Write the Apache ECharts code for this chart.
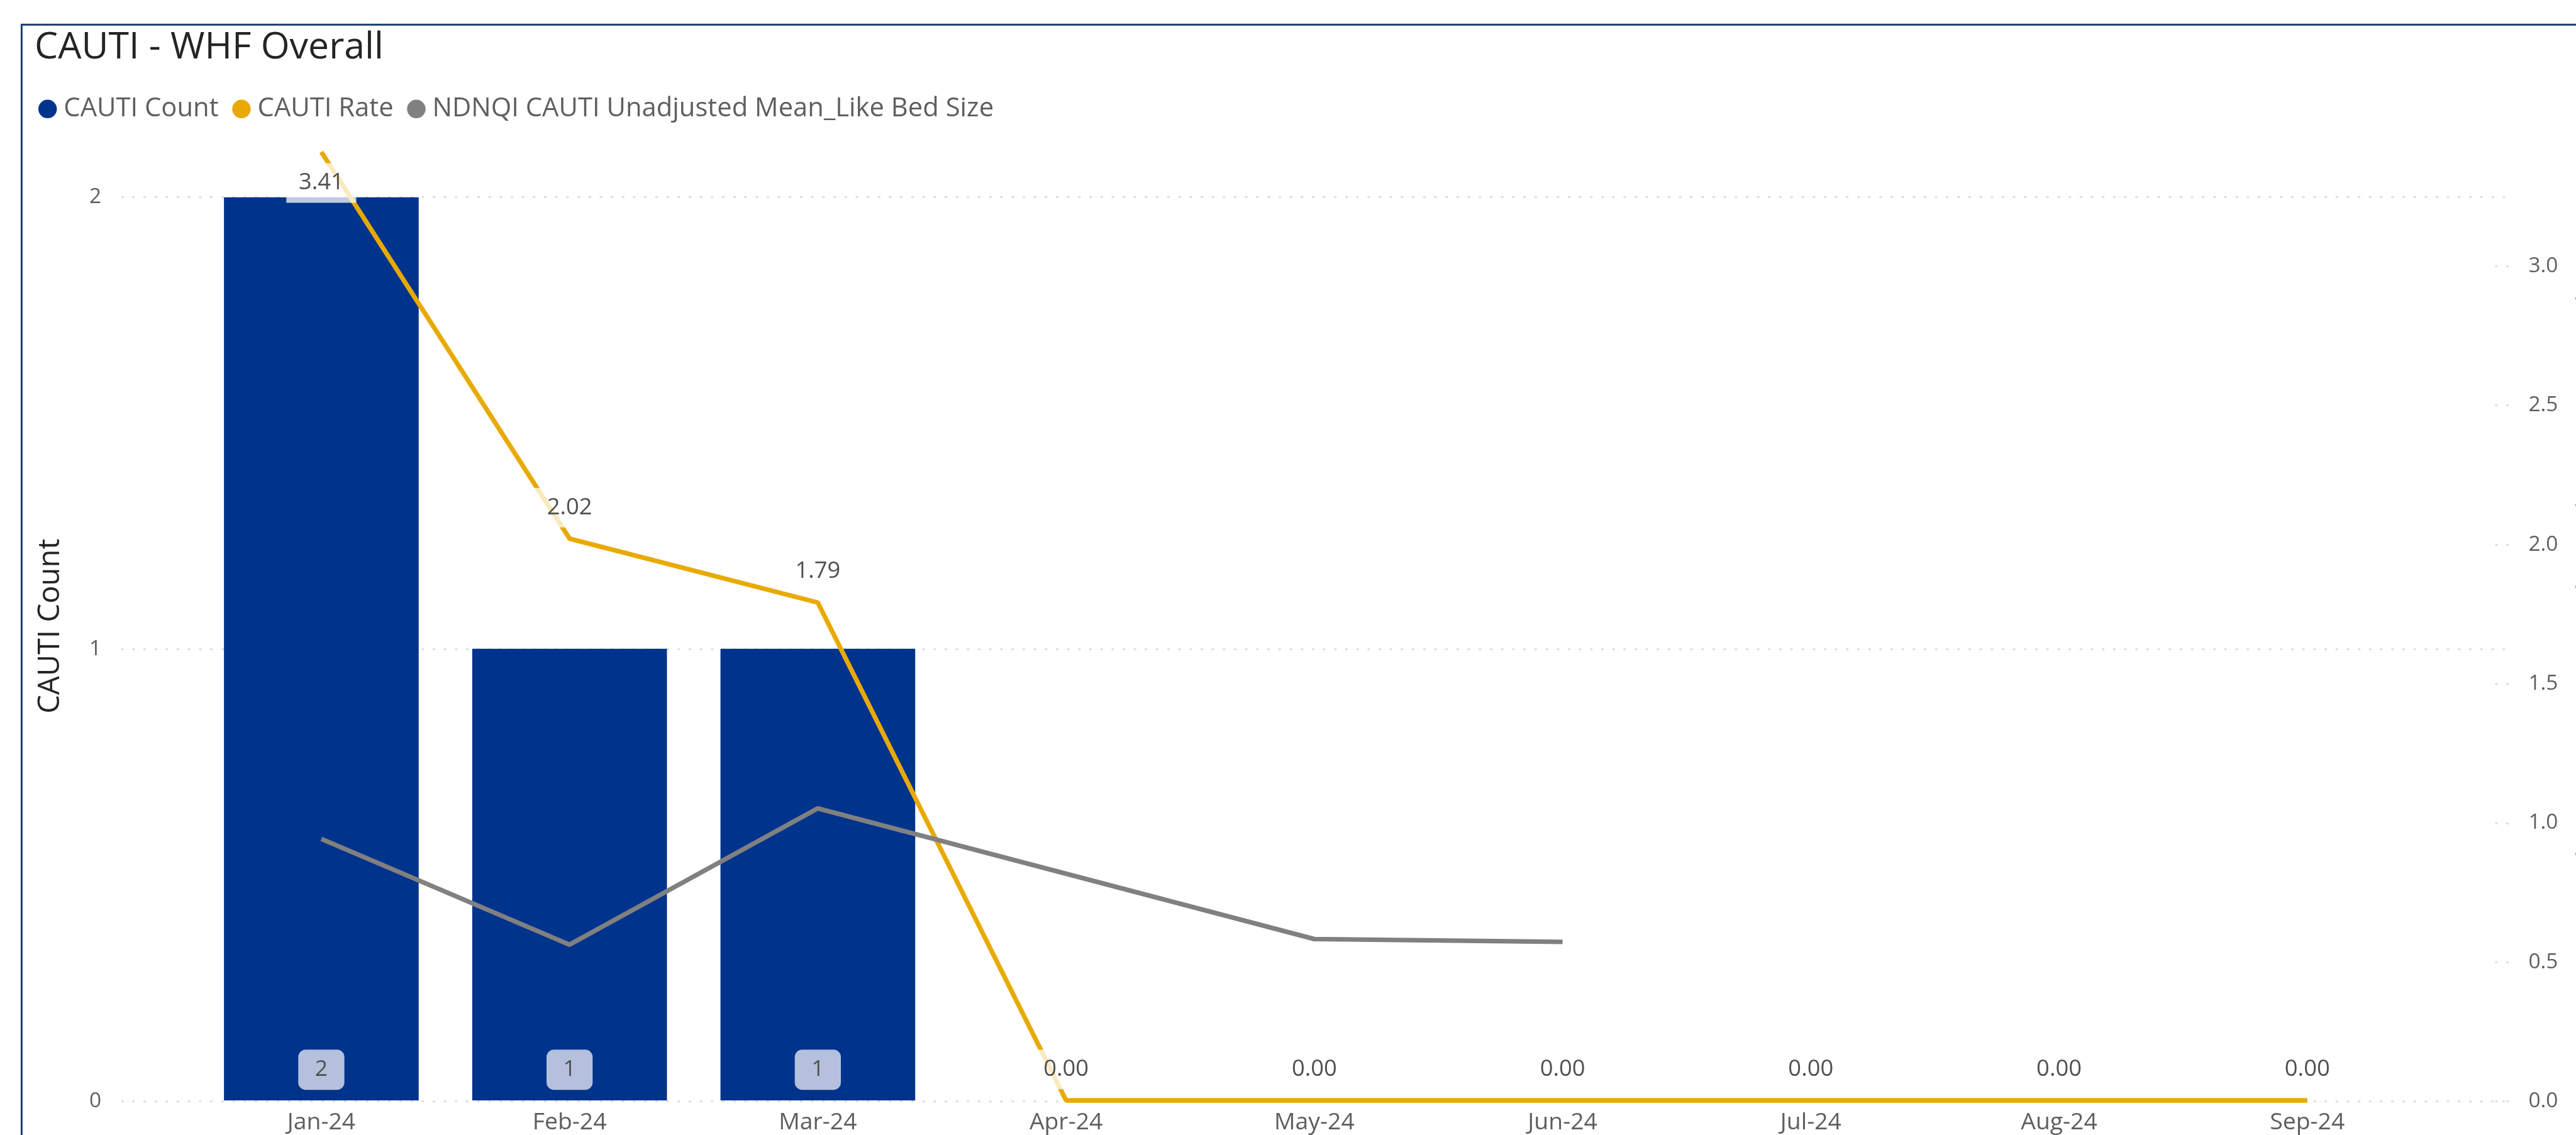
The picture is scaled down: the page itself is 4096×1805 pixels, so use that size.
<!DOCTYPE html>
<html>
<head>
<meta charset="utf-8">
<title>CAUTI - WHF Overall</title>
<script src="https://cdn.jsdelivr.net/npm/echarts@6/dist/echarts.min.js"></script>
<style>
    html, body { margin: 0; padding: 0; background: #fff; }
    #chart { width: 4096px; height: 1805px; }
</style>
</head>
<body>
<div id="chart"></div>
<script>
// chart values
var months = ['Jan-24', 'Feb-24', 'Mar-24', 'Apr-24', 'May-24', 'Jun-24', 'Jul-24', 'Aug-24', 'Sep-24'];
var cautiCount = [2, 1, 1, null, null, null, null, null, null];
var cautiRate = [3.41, 2.02, 1.79, 0, 0, 0, 0, 0, 0];
var ndnqiMean = [0.94, 0.56, 1.05, null, 0.58, 0.57, null, null, null];
var countTicks = [0, 1, 2];
var rateTicks = [0, 0.5, 1, 1.5, 2, 2.5, 3];
var countMax = 2.1;
var rateMax = 3.41;

var K = 0.983;
var W = 4096, H = 1805;
var FONT = "'Open Sans', 'Noto Sans', sans-serif";
function s(v) { return v * K; }

var chart = echarts.init(document.getElementById('chart'));

var dotted = { color: '#dedede', width: s(3), type: [s(4), s(14)] };

var rateData = cautiRate.map(function(v) {
    // the top value would leave the plot, so its label goes under the point
    if (v === rateMax) {
        return { value: v, label: { position: 'bottom' } };
    }
    return v;
});

var option = {
    animation: false,
    backgroundColor: '#fff',
    title: {
        text: 'CAUTI - WHF Overall',
        left: s(56),
        top: s(47),
        padding: 0,
        textStyle: { fontFamily: FONT, fontSize: s(60), fontWeight: 'normal', color: '#252423' }
    },
    legend: {
        left: s(62),
        top: s(155),
        padding: 0,
        icon: 'circle',
        itemWidth: s(30),
        itemHeight: s(30),
        itemGap: s(22),
        textStyle: { fontFamily: FONT, fontSize: s(42.5), lineHeight: s(40), color: '#605E5C', padding: [0, 0, 0, s(6)] },
        data: ['CAUTI Count', 'CAUTI Rate', 'NDNQI CAUTI Unadjusted Mean_Like Bed Size']
    },
    grid: [
        { left: s(196), right: W - s(4058), top: s(246), bottom: H - s(1782) },
        { left: s(319), right: W - s(3933), top: s(246), bottom: H - s(1782) },
        { left: s(4036), right: W - s(4058), top: s(246), bottom: H - s(1782) }
    ],
    xAxis: [
        { type: 'value', gridIndex: 0, show: false },
        {
            type: 'category',
            gridIndex: 1,
            data: months,
            axisLine: { show: false },
            axisTick: { show: false },
            axisLabel: { fontFamily: FONT, fontSize: s(38), lineHeight: s(40), color: '#605E5C', margin: s(16) }
        },
        { type: 'value', gridIndex: 2, show: false }
    ],
    yAxis: [
        {
            type: 'value',
            gridIndex: 0,
            min: 0,
            max: countMax,
            interval: 1,
            axisLine: { show: false },
            axisTick: { show: false, customValues: countTicks },
            axisLabel: { customValues: countTicks, fontFamily: FONT, fontSize: s(34), color: '#605E5C', margin: s(32) },
            splitLine: { show: true, lineStyle: dotted }
        },
        { type: 'value', gridIndex: 1, min: 0, max: countMax, show: false, splitLine: { show: false } },
        { type: 'value', gridIndex: 1, min: 0, max: rateMax, show: false, splitLine: { show: false } },
        {
            type: 'value',
            gridIndex: 2,
            position: 'right',
            min: 0,
            max: rateMax,
            interval: 0.5,
            axisLine: { show: false },
            axisTick: { show: false, customValues: rateTicks },
            axisLabel: {
                customValues: rateTicks,
                fontFamily: FONT, fontSize: s(34), color: '#605E5C', margin: s(32),
                formatter: function(v) { return v.toFixed(1); }
            },
            splitLine: { show: true, lineStyle: dotted }
        }
    ],
    series: [
        {
            name: 'CAUTI Count',
            type: 'bar',
            xAxisIndex: 1,
            yAxisIndex: 1,
            data: cautiCount,
            barWidth: s(315),
            itemStyle: { color: '#00338C' },
            label: {
                show: true,
                position: 'insideBottom',
                distance: s(17),
                fontFamily: FONT,
                fontSize: s(36),
                lineHeight: s(40),
                color: '#505050',
                backgroundColor: '#B4C0DC',
                borderRadius: s(12),
                padding: [s(12.5), s(27)]
            }
        },
        {
            name: 'CAUTI Rate',
            type: 'line',
            xAxisIndex: 1,
            yAxisIndex: 2,
            data: rateData,
            clip: false,
            symbol: 'circle',
            symbolSize: 1,
            showSymbol: true,
            itemStyle: { color: '#E8AA00' },
            lineStyle: { color: '#E8AA00', width: s(7.5) },
            label: {
                show: true,
                position: 'top',
                distance: s(17.5),
                fontFamily: FONT,
                fontSize: s(37),
                lineHeight: s(40),
                color: '#505050',
                backgroundColor: 'rgba(255,255,255,0.75)',
                padding: [s(12), s(20)],
                formatter: function(p) { return p.value.toFixed(2); }
            },
            z: 3
        },
        {
            name: 'NDNQI CAUTI Unadjusted Mean_Like Bed Size',
            type: 'line',
            xAxisIndex: 1,
            yAxisIndex: 2,
            data: ndnqiMean,
            connectNulls: true,
            symbol: 'none',
            itemStyle: { color: '#808080' },
            lineStyle: { color: '#808080', width: s(7.5) },
            z: 4
        }
    ],
    graphic: [
        {
            // visual frame: only its top and left edges are in view
            type: 'rect',
            silent: true,
            shape: { x: s(35), y: s(40), width: 6000, height: 6000 },
            style: { fill: 'none', stroke: '#1d3b70', lineWidth: s(3) }
        },
        {
            type: 'text',
            x: s(82),
            y: s(1013),
            rotation: Math.PI / 2,
            style: {
                text: 'CAUTI Count',
                font: s(48) + 'px ' + FONT,
                fill: '#252423',
                align: 'center',
                verticalAlign: 'middle'
            }
        },
        {
            // secondary axis title, cut off by the right edge
            type: 'text',
            x: s(4189),
            y: s(1044),
            rotation: Math.PI / 2,
            style: {
                text: 'CAUTI Rate and NDNQI CAUTI Unadjusted Mean_Like Bed Size',
                font: s(46) + 'px ' + FONT,
                fill: '#252423',
                align: 'center',
                verticalAlign: 'middle'
            }
        }
    ]
};

chart.setOption(option);
</script>
</body>
</html>
